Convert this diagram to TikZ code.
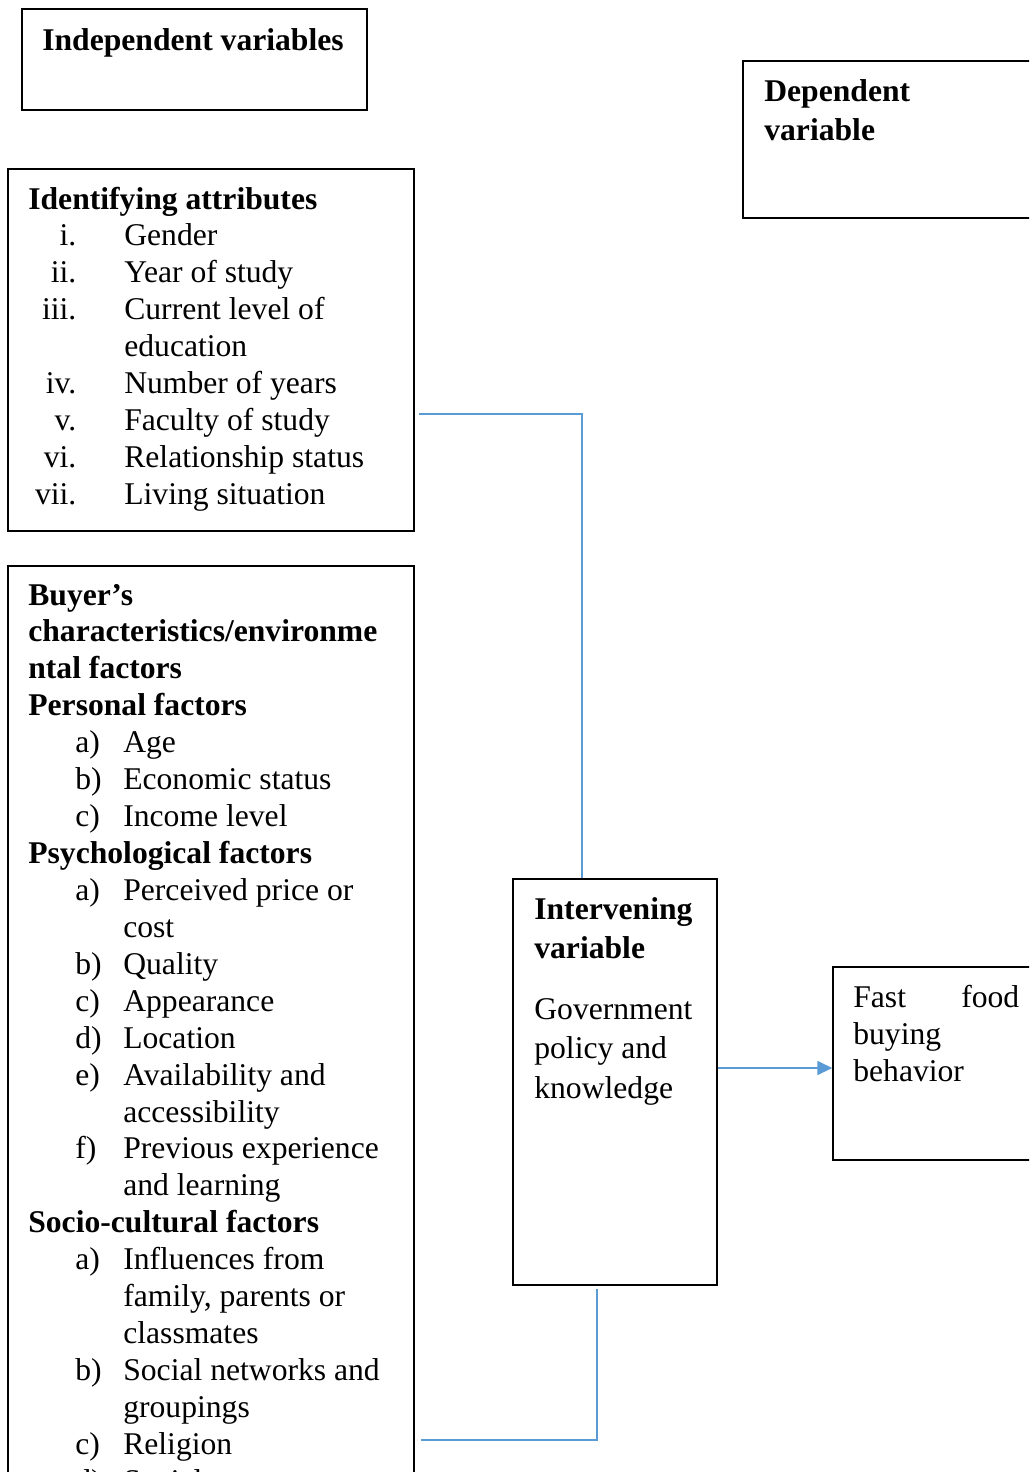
\documentclass[tikz,border=0pt]{standalone}
\usepackage{fontspec}
\setmainfont{Liberation Serif}
\usetikzlibrary{arrows.meta}
\definecolor{linkblue}{RGB}{91,155,213}
\newcommand{\romitem}[2]{\makebox[0.96cm][r]{#1}\hspace{0.96cm}#2}
\newcommand{\letitem}[2]{\hspace{0.94cm}\makebox[0.96cm][l]{#1}#2}

\begin{document}
\begin{tikzpicture}[x=0.02cm, y=-0.02cm,
    box/.style={draw, line width=0.8pt, fill=white, inner sep=0pt},
    lbl/.style={anchor=base west, inner sep=0pt, font=\fontsize{18}{21}\selectfont},
    link/.style={draw=linkblue, line width=0.9pt}]
\useasboundingbox (0,0) rectangle (1029,1472);
\clip (0,0) rectangle (1029,1472);

% boxes
\node[box, minimum width=6.9cm, minimum height=2.02cm] (indep) at (194.5,59.5) {};
\node[box, minimum width=6.04cm, minimum height=3.14cm] (dep) at (894,139.5) {};
\node[box, minimum width=8.12cm, minimum height=7.24cm] (attr) at (211,350) {};
\node[box, minimum width=8.12cm, minimum height=18.68cm] (buyer) at (211,1033) {};
\node[box, minimum width=4.08cm, minimum height=8.12cm] (intv) at (615,1082) {};
\node[box, minimum width=4.24cm, minimum height=3.86cm] (fast) at (939,1063.5) {};

% texts
\node[lbl] (indeptxt) at (42,50) {\textbf{Independent variables}};
\node[lbl, font=\fontsize{18}{22.7}\selectfont] (deptxt) at (764,101)
  {\begin{tabular}[t]{@{}l@{}}\textbf{Dependent}\\ \textbf{variable}\end{tabular}};
\node[lbl] (attrtxt) at (28,209)
  {\begin{tabular}[t]{@{}l@{}}
   \textbf{Identifying attributes}\\
   \romitem{i.}{Gender}\\
   \romitem{ii.}{Year of study}\\
   \romitem{iii.}{Current level of}\\
   \romitem{}{education}\\
   \romitem{iv.}{Number of years}\\
   \romitem{v.}{Faculty of study}\\
   \romitem{vi.}{Relationship status}\\
   \romitem{vii.}{Living situation}
   \end{tabular}};
\node[lbl, font=\fontsize{18}{21.02}\selectfont] (buyertxt) at (28,605)
  {\begin{tabular}[t]{@{}l@{}}
   \textbf{Buyer’s}\\
   \textbf{characteristics/environme}\\
   \textbf{ntal factors}\\
   \textbf{Personal factors}\\
   \letitem{a)}{Age}\\
   \letitem{b)}{Economic status}\\
   \letitem{c)}{Income level}\\
   \textbf{Psychological factors}\\
   \letitem{a)}{Perceived price or}\\
   \letitem{}{cost}\\
   \letitem{b)}{Quality}\\
   \letitem{c)}{Appearance}\\
   \letitem{d)}{Location}\\
   \letitem{e)}{Availability and}\\
   \letitem{}{accessibility}\\
   \letitem{f)}{Previous experience}\\
   \letitem{}{and learning}\\
   \textbf{Socio-cultural factors}\\
   \letitem{a)}{Influences from}\\
   \letitem{}{family, parents or}\\
   \letitem{}{classmates}\\
   \letitem{b)}{Social networks and}\\
   \letitem{}{groupings}\\
   \letitem{c)}{Religion}\\
   \letitem{d)}{Social}
   \end{tabular}};
\node[lbl, font=\fontsize{18}{22.2}\selectfont] (intvhead) at (534,919)
  {\begin{tabular}[t]{@{}l@{}}\textbf{Intervening}\\ \textbf{variable}\end{tabular}};
\node[lbl, font=\fontsize{18}{22.7}\selectfont] (intvtxt) at (534,1019)
  {\begin{tabular}[t]{@{}l@{}}Government\\ policy and\\ knowledge\end{tabular}};
\node[lbl, font=\fontsize{18}{21.3}\selectfont] (fasttxt) at (853,1007)
  {\begin{tabular}[t]{@{}l@{}}\makebox[3.32cm][s]{Fast food}\\ buying\\ behavior\end{tabular}};

% connectors
\coordinate (j1) at (582,414);
\coordinate (j2) at (597,1440);
\coordinate (j3) at (720,1068);
\draw[link] ([xshift=0.08cm]attr.east |- j1) -- (j1) -- (j1 |- intv.north);
\draw[link] ([xshift=0.12cm]buyer.east |- j2) -- (j2) -- ([yshift=-0.06cm]j2 |- intv.south);
\draw[link, -{Triangle[length=0.3cm, width=0.28cm]}] (intv.east |- j3) -- (fast.west |- j3);
\end{tikzpicture}
\end{document}
